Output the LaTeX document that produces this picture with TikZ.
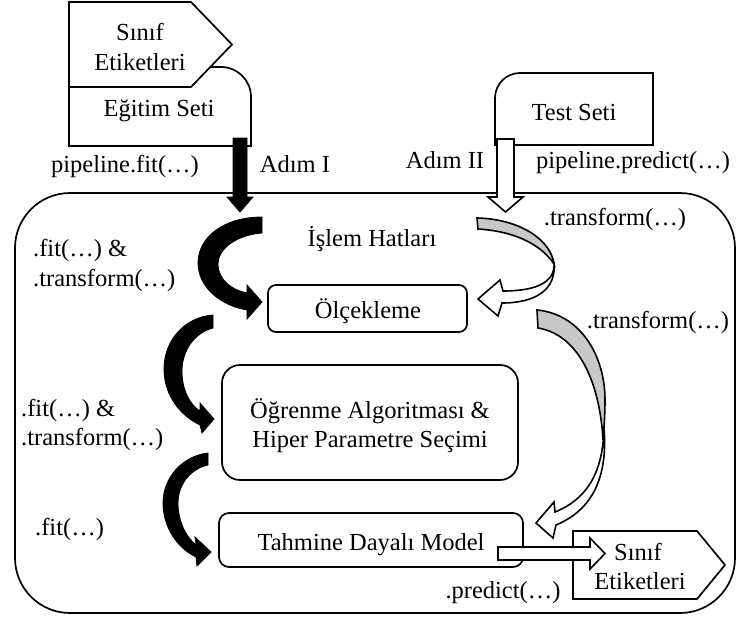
\documentclass[tikz,border=0pt]{standalone}
\usepackage{fontspec}
\setmainfont{Liberation Serif}
\definecolor{ribbongray}{RGB}{200,200,200}
\begin{document}
\begin{tikzpicture}[x=1pt,y=-1pt,
  outline/.style={draw=black, line width=1.7pt, line join=miter, fill=white},
  box/.style={outline, rectangle, inner sep=0pt},
  txt/.style={font=\fontsize{24.5}{29}\selectfont, inner sep=0pt, anchor=base},
  ltxt/.style={txt, anchor=base west},
  solidarrow/.style={fill=black, draw=black, line width=0.8pt, line join=miter},
  hollowarrow/.style={outline, line width=1.6pt},
  backface/.style={outline, line width=1.6pt, fill=ribbongray}]
\useasboundingbox (0,0) rectangle (737,621);

% pipeline frame
\draw[outline, rounded corners=55pt] (15,193) rectangle (735,613);

% training data: document box with the class-label tag on top
\draw[outline] (69,146) -- (69,67) -- (221,67)
  .. controls (237.6,67) and (251,80.4) .. (251,97) -- (251,146) -- cycle;
\draw[outline] (69,2) -- (191,2) -- (232,44.5) -- (191,87) -- (69,87) -- cycle;
\node[txt] (lblA1) at (140,41) {Sınıf};
\node[txt] (lblA2) at (140,70) {Etiketleri};
\node[txt] (train) at (159,116) {Eğitim Seti};

% test data
\draw[outline] (495,145) -- (495,98) .. controls (495,84.2) and (506.2,73) .. (520,73)
  -- (653,73) -- (653,145) -- cycle;
\node[txt] (test) at (574,120) {Test Seti};

% inner stages
\node[box, rounded corners=8pt, minimum width=199pt, minimum height=47pt] (scale) at (367.5,308.5) {};
\node[txt] at (368,318) {Ölçekleme};
\node[box, rounded corners=18pt, minimum width=296pt, minimum height=115pt] (learn) at (370,422.5) {};
\node[txt] at (370,418) {Öğrenme Algoritması \&};
\node[txt] at (370,447) {Hiper Parametre Seçimi};
\node[box, rounded corners=10pt, minimum width=304pt, minimum height=54pt] (model) at (371,540) {};
\node[txt] at (371,550) {Tahmine Dayalı Model};

% predicted class labels
\draw[outline] (573,531) -- (697,531) -- (725,565) -- (697,599) -- (573,599) -- cycle;
\node[txt] (lblB1) at (638,560) {Sınıf};
\node[txt] (lblB2) at (640,589) {Etiketleri};

% step I: solid arrow into the pipeline
\draw[solidarrow] (233,138) -- (247,138) -- (247,197) -- (253,197) -- (240,212)
  -- (227,197) -- (233,197) -- cycle;
% step II: hollow arrow into the pipeline
\draw[hollowarrow] (497,139) -- (514,139) -- (514,197) -- (523,197) -- (505.5,212)
  -- (488,197) -- (497,197) -- cycle;

% fit & transform chain (solid curved arrows)
\draw[solidarrow] (262,217) .. controls (224,217) and (198,237) .. (198,263)
  .. controls (198,288) and (222,306) .. (247,310) -- (247,319) -- (262,302)
  -- (247,285) -- (247,293) .. controls (232,290) and (218,280) .. (218,264)
  .. controls (218,249) and (236,235) .. (262,233) -- cycle;
\draw[solidarrow] (213,315) .. controls (185,317) and (164,340) .. (164,369)
  .. controls (164,396) and (181,416) .. (200,425) -- (202,433) -- (214,419)
  -- (200,403) -- (200,411) .. controls (189,404) and (182,389) .. (182,371)
  .. controls (182,351) and (194,333) .. (213,328) -- cycle;
\draw[solidarrow] (208,453) .. controls (182,456) and (163,478) .. (163,503)
  .. controls (163,527) and (177,548) .. (196,557) -- (197,566) -- (211,552)
  -- (195,537) -- (196,545) .. controls (185,536) and (178,520) .. (178,503)
  .. controls (178,485) and (190,469) .. (208,465) -- cycle;

% transform chain (ribbon arrows)
\draw[hollowarrow] (554,262) .. controls (556,283) and (535,291) .. (503,291)
  -- (500,280) -- (478,299) -- (498,316) -- (502,303)
  .. controls (535,303) and (557,290) .. (554,262) -- cycle;
\draw[backface] (477,218) .. controls (520,219) and (551,240) .. (554,264)
  .. controls (540,243) and (512,231) .. (478,229) -- cycle;

\draw[hollowarrow] (604,428) .. controls (603,475) and (585,500) .. (555,512)
  -- (554,502) -- (536,523) -- (553,538) -- (556,525)
  .. controls (592,510) and (608,478) .. (604,428) -- cycle;
\draw[backface] (537,310) .. controls (580,314) and (605,355) .. (605,400)
  .. controls (605,415) and (604,428) .. (603,440)
  .. controls (600,385) and (580,335) .. (538,328) -- cycle;

% prediction output
\draw[hollowarrow] (498,547) -- (590,547) -- (590,538) -- (605,553.5) -- (590,569)
  -- (590,560) -- (498,560) -- cycle;

% labels
\node[txt] (fitcall) at (125,172) {pipeline.fit(…)};
\node[txt] (stepI) at (295,172) {Adım I};
\node[txt] (stepII) at (445,168) {Adım II};
\node[txt] (predcall) at (633,168) {pipeline.predict(…)};
\node[txt] (tr1) at (615,225) {.transform(…)};
\node[txt] (pipe) at (372,246) {İşlem Hatları};
\node[ltxt] (ft1a) at (33,256) {.fit(…) \&};
\node[ltxt] (ft1b) at (33,286) {.transform(…)};
\node[txt] (tr2) at (658,328) {.transform(…)};
\node[ltxt] (ft2a) at (21,416) {.fit(…) \&};
\node[ltxt] (ft2b) at (21,445) {.transform(…)};
\node[ltxt] (ft3) at (35,535) {.fit(…)};
\node[txt] (pred) at (503,598) {.predict(…)};
\end{tikzpicture}
\end{document}
